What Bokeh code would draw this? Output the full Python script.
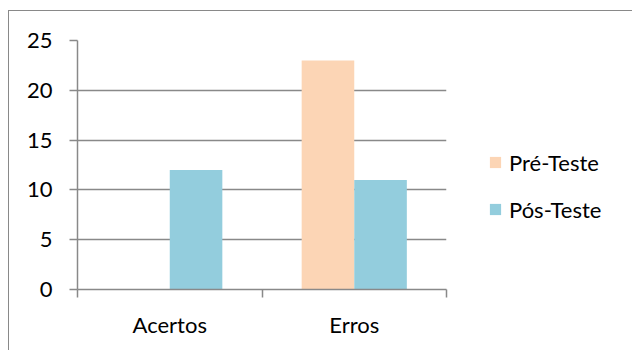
import numpy as np
from bokeh.plotting import figure
from bokeh.models import (Range1d, LinearAxis, FixedTicker,
                          ColumnDataSource, Legend, LegendItem)
from bokeh.transform import dodge
from bokeh.embed import file_html
from bokeh.resources import INLINE

categories = ["Acertos", "Erros"]
pre_teste = [0, 23]
pos_teste = [12, 11]
series_names = ["Pré-Teste", "Pós-Teste"]
y_ticks = [0, 5, 10, 15, 20, 25]

PRE_COLOR = "#FCD5B5"
POS_COLOR = "#93CDDD"
GRAY = "#898989"
FONT = "Lato"
FS = "22px"

n = len(categories)
centers = (np.arange(n) + 0.5).tolist()
src = ColumnDataSource(dict(x=centers, pre=pre_teste, pos=pos_teste))

p = figure(frame_width=369, frame_height=249, x_range=Range1d(0, n), y_range=Range1d(0, 25),
           output_backend="svg", toolbar_location=None, x_axis_location=None,
           min_border_left=68, min_border_right=186, min_border_top=29, min_border_bottom=61)
p.styles = {"margin-top": "10px", "margin-left": "8px",
            "border-top": f"1px solid {GRAY}", "border-left": f"1px solid {GRAY}"}
p.outline_line_color = None
p.background_fill_color = "white"
p.border_fill_color = "white"

bw = 0.285
r_pre = p.vbar(x=dodge("x", -bw / 2), top="pre", width=bw, source=src,
               fill_color=PRE_COLOR, line_color=None)
r_pos = p.vbar(x=dodge("x", bw / 2), top="pos", width=bw, source=src,
               fill_color=POS_COLOR, line_color=None)

# y axis
ya = p.yaxis[0]
ya.ticker = FixedTicker(ticks=y_ticks)
ya.axis_line_color = GRAY
ya.axis_line_width = 1.5
ya.major_tick_line_color = GRAY
ya.major_tick_line_width = 1.5
ya.major_tick_out = 8
ya.major_tick_in = 0
ya.minor_tick_line_color = None
ya.major_label_text_font = FONT
ya.major_label_text_font_size = FS
ya.major_label_text_color = "black"
ya.major_label_standoff = 17

p.ygrid.grid_line_color = GRAY
p.ygrid.grid_line_width = 1.5
p.ygrid.ticker = FixedTicker(ticks=y_ticks)
p.xgrid.grid_line_color = None

# x axis: tick marks at category boundaries, labels at centres
bounds = list(range(n + 1))
tick_axis = LinearAxis(ticker=FixedTicker(ticks=bounds),
                       major_label_overrides={b: "" for b in bounds},
                       axis_line_color=GRAY, axis_line_width=1.5,
                       major_tick_line_color=GRAY, major_tick_line_width=1.5,
                       major_tick_out=8, major_tick_in=0, minor_tick_line_color=None,
                       major_label_text_font_size="1px", major_label_standoff=0)
p.add_layout(tick_axis, "below")
cat_axis = LinearAxis(ticker=FixedTicker(ticks=centers),
                      major_label_overrides={c: lab for c, lab in zip(centers, categories)},
                      axis_line_color=None, major_tick_line_color=None, minor_tick_line_color=None,
                      major_label_text_font=FONT, major_label_text_font_size=FS,
                      major_label_text_color="black", major_label_standoff=7)
p.add_layout(cat_axis, "below")

legend = Legend(items=[LegendItem(label=series_names[0], renderers=[r_pre]),
                       LegendItem(label=series_names[1], renderers=[r_pos])],
                location="left", orientation="vertical",
                title=" ", title_text_font=FONT, title_text_font_size=FS, title_standoff=15,
                padding=0, margin=42, spacing=20, border_line_color=None,
                background_fill_alpha=0,
                glyph_width=14, glyph_height=14, label_standoff=7, label_height=25,
                label_text_font=FONT, label_text_font_size=FS, label_text_color="black")
p.add_layout(legend, "right")

open("out.html", "w").write(file_html(p, INLINE))
